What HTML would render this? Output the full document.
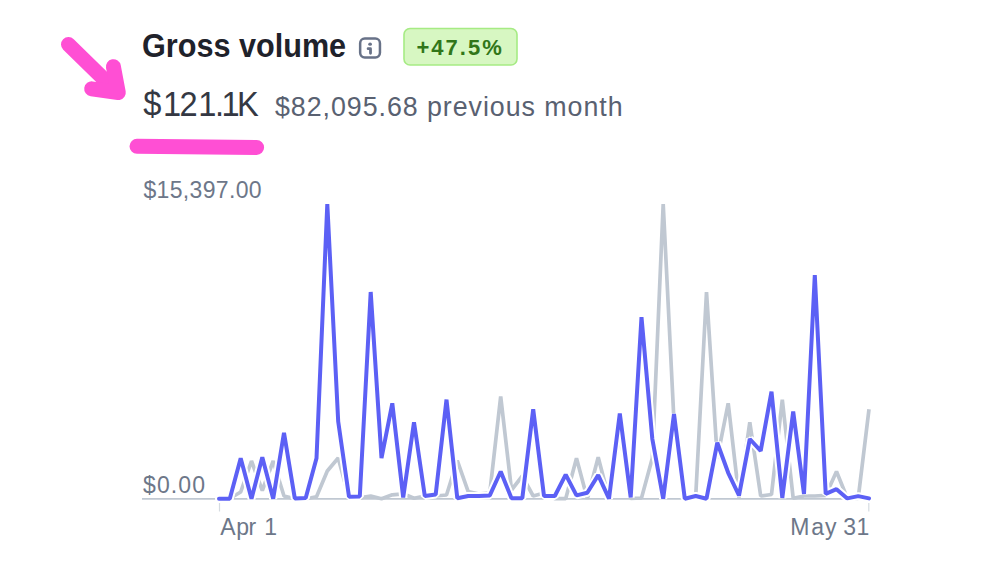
<!DOCTYPE html>
<html><head><meta charset="utf-8"><title>Gross volume</title>
<style>
html,body{margin:0;padding:0;background:#fff;width:1005px;height:565px;overflow:hidden}
svg{display:block}
text{font-family:"Liberation Sans",Arial,sans-serif}
</style></head>
<body>
<svg width="1005" height="565" viewBox="0 0 1005 565">
<rect width="1005" height="565" fill="#fff"/>
<!-- pink arrow -->
<g fill="none" stroke="#ff4fd4" stroke-width="15" stroke-linecap="round" stroke-linejoin="round">
<path d="M68.5 44.5 L114 89"/>
<path d="M113.4 66.7 L118.3 92.6 L91.7 88.8"/>
<path d="M137 146.3 L256.6 147.5" stroke-width="15"/>
</g>
<!-- header -->
<text transform="translate(142.0 57.4) scale(0.942 1)" x="0" y="0" font-size="32.5" font-weight="bold" fill="#1f222b">Gross volume</text>
<rect x="360.15" y="38.55" width="19.8" height="18.9" rx="4.6" fill="none" stroke="#687288" stroke-width="2.5"/>
<ellipse cx="370.1" cy="44.2" rx="1.9" ry="1.6" fill="#687288"/>
<path d="M368.1 48.7 H370.5 V53.3" fill="none" stroke="#687288" stroke-width="2.8" stroke-linecap="round" stroke-linejoin="round"/>
<rect x="404" y="28.5" width="113" height="36.5" rx="6" fill="#d7f7c2" stroke="#a6eb84" stroke-width="1.6"/>
<text x="416.5" y="54.9" font-size="22" font-weight="bold" fill="#317619" letter-spacing="2">+47.5%</text>
<text transform="scale(0.92 1)" x="155.71 177.17 195.00 215.43 233.59 240.87 257.61" y="116.3" font-size="35.5" fill="#343843">$121.1K</text>
<text x="275" y="116.4" font-size="26.8" fill="#596171" letter-spacing="0.95">$82,095.68 previous month</text>
<text x="143.4" y="197.5" font-size="23" fill="#6d7789" letter-spacing="0.34">$15,397.00</text>
<text x="143" y="493.2" font-size="23" fill="#6d7789" letter-spacing="1.12">$0.00</text>
<!-- axis -->
<line x1="142" y1="498.8" x2="869" y2="498.8" stroke="#c0c8d2" stroke-width="1.7"/>
<line x1="219.5" y1="503" x2="219.5" y2="511.5" stroke="#d5dbe1" stroke-width="1.2"/>
<line x1="868.8" y1="503" x2="868.8" y2="511.5" stroke="#d5dbe1" stroke-width="1.2"/>
<text x="220.2 236.3 248.6 256.2 264.2" y="534.8" font-size="23" fill="#6d7789">Apr 1</text>
<text x="790.2 811.3 824.9 836.4 843.3 856.4" y="534.7" font-size="23" fill="#6d7789">May 31</text>
<!-- lines -->
<polyline points="219.0,498.5 229.8,498.5 240.7,492.0 251.5,461.0 262.3,490.5 273.2,461.0 284.0,496.0 294.8,498.7 305.7,498.7 316.5,496.8 327.3,471.0 338.2,458.0 349.0,497.8 359.8,497.8 370.7,496.0 381.5,498.7 392.3,494.8 403.2,493.8 414.0,498.3 424.8,496.0 435.7,496.0 446.5,495.0 457.3,460.6 468.2,491.6 479.0,494.0 489.8,492.8 500.7,396.5 511.5,490.0 522.3,476.0 533.2,496.0 544.0,493.0 554.8,498.7 565.7,498.7 576.5,458.2 587.3,498.7 598.2,457.2 609.0,498.7 619.8,432.8 630.7,498.4 641.5,498.0 652.3,458.3 663.2,204.0 674.0,421.5 684.8,496.8 695.7,496.5 706.5,292.0 717.3,458.2 728.2,403.3 739.0,497.5 749.8,422.3 760.7,496.0 771.5,494.5 782.3,399.6 793.2,498.3 804.0,496.0 814.8,496.0 825.7,495.4 836.5,471.5 847.3,498.3 858.2,498.3 869.0,409.2" fill="none" stroke="#c0c8d2" stroke-width="3.7" stroke-linejoin="bevel"/>
<polyline points="219.0,498.7 229.8,498.7 240.7,458.2 251.5,498.7 262.3,457.2 273.2,498.7 284.0,432.8 294.8,498.4 305.7,498.0 316.5,458.3 327.3,204.0 338.2,421.5 349.0,496.8 359.8,496.5 370.7,292.0 381.5,458.2 392.3,403.3 403.2,497.5 414.0,422.3 424.8,496.0 435.7,494.5 446.5,399.6 457.3,498.3 468.2,496.0 479.0,496.0 489.8,495.4 500.7,471.5 511.5,498.3 522.3,498.3 533.2,409.2 544.0,496.0 554.8,496.0 565.7,474.6 576.5,495.4 587.3,492.8 598.2,475.1 609.0,498.7 619.8,413.6 630.7,497.5 641.5,317.2 652.3,438.8 663.2,498.7 674.0,414.0 684.8,498.7 695.7,496.0 706.5,498.7 717.3,442.7 728.2,472.8 739.0,495.5 749.8,439.0 760.7,450.8 771.5,391.7 782.3,497.9 793.2,411.5 804.0,494.0 814.8,275.0 825.7,493.8 836.5,489.2 847.3,498.4 858.2,496.1 869.0,498.4" fill="none" stroke="#fff" stroke-width="8" stroke-linejoin="bevel" stroke-linecap="round"/>
<polyline points="219.0,498.7 229.8,498.7 240.7,458.2 251.5,498.7 262.3,457.2 273.2,498.7 284.0,432.8 294.8,498.4 305.7,498.0 316.5,458.3 327.3,204.0 338.2,421.5 349.0,496.8 359.8,496.5 370.7,292.0 381.5,458.2 392.3,403.3 403.2,497.5 414.0,422.3 424.8,496.0 435.7,494.5 446.5,399.6 457.3,498.3 468.2,496.0 479.0,496.0 489.8,495.4 500.7,471.5 511.5,498.3 522.3,498.3 533.2,409.2 544.0,496.0 554.8,496.0 565.7,474.6 576.5,495.4 587.3,492.8 598.2,475.1 609.0,498.7 619.8,413.6 630.7,497.5 641.5,317.2 652.3,438.8 663.2,498.7 674.0,414.0 684.8,498.7 695.7,496.0 706.5,498.7 717.3,442.7 728.2,472.8 739.0,495.5 749.8,439.0 760.7,450.8 771.5,391.7 782.3,497.9 793.2,411.5 804.0,494.0 814.8,275.0 825.7,493.8 836.5,489.2 847.3,498.4 858.2,496.1 869.0,498.4" fill="none" stroke="#5c60f5" stroke-width="4" stroke-linejoin="bevel" stroke-linecap="round"/>
</svg>
</body></html>
